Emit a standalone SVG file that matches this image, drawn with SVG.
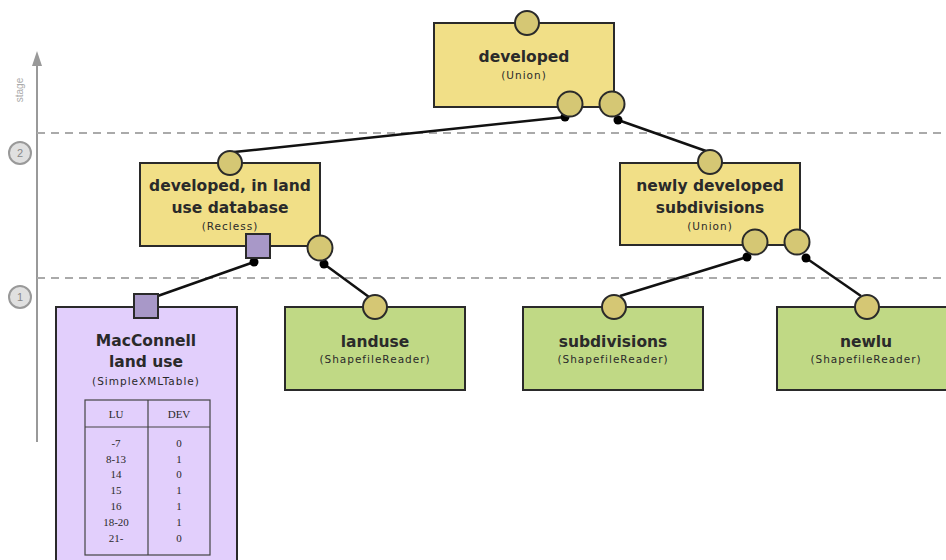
<svg xmlns="http://www.w3.org/2000/svg" width="946" height="560" viewBox="0 0 946 560">
<defs>
<style>
.box{stroke:#2a2a2a;stroke-width:2}
.y{fill:#f1df87}
.g{fill:#c0d985}
.p{fill:#e2cffc}
.port{fill:#d5c774;stroke:#2a2a2a;stroke-width:2}
.sq{fill:#a898c8;stroke:#2a2a2a;stroke-width:2}
.t{font-family:"DejaVu Sans",Verdana,sans-serif;font-weight:bold;font-size:15.5px;fill:#2a2a2a;text-anchor:middle}
.s{font-family:"DejaVu Sans",Verdana,sans-serif;font-size:10.5px;letter-spacing:1px;fill:#2a2a2a;text-anchor:middle}
.tb{font-family:"Liberation Serif",serif;font-size:11px;fill:#2a2a2a;text-anchor:middle}
.c{stroke:#111;stroke-width:2.5;fill:none}
.dot{fill:#000}
.dash{stroke:#aaa;stroke-width:2;stroke-dasharray:8 6}
</style>
</defs>
<rect width="946" height="560" fill="#fff"/>
<g id="axis">
<line x1="37" y1="66" x2="37" y2="442" stroke="#999" stroke-width="2"/>
<polygon points="37,51 32,66 42,66" fill="#999"/>
<text x="23" y="90" transform="rotate(-90 23 90)" font-family="Liberation Sans,sans-serif" font-size="10" fill="#aaa" text-anchor="middle">stage</text>
<line class="dash" x1="37" y1="133" x2="946" y2="133"/>
<line class="dash" x1="37" y1="278" x2="946" y2="278"/>
<circle cx="20" cy="153" r="11" fill="#e0e0e0" stroke="#999" stroke-width="2"/>
<text x="20" y="157" font-family="Liberation Sans,sans-serif" font-size="11" fill="#888" text-anchor="middle">2</text>
<circle cx="20" cy="297" r="11" fill="#e0e0e0" stroke="#999" stroke-width="2"/>
<text x="20" y="301" font-family="Liberation Sans,sans-serif" font-size="11" fill="#888" text-anchor="middle">1</text>
</g>
<g id="connectors">
<line class="c" x1="565" y1="117" x2="234" y2="152"/>
<circle class="dot" cx="565" cy="117" r="4.5"/>
<line class="c" x1="618" y1="120" x2="706" y2="151"/>
<circle class="dot" cx="618" cy="120" r="4.5"/>
<line class="c" x1="254" y1="262" x2="152" y2="298"/>
<circle class="dot" cx="254" cy="262" r="4.5"/>
<line class="c" x1="324" y1="264" x2="369" y2="297"/>
<circle class="dot" cx="324" cy="264" r="4.5"/>
<line class="c" x1="747" y1="257" x2="620" y2="296"/>
<circle class="dot" cx="747" cy="257" r="4.5"/>
<line class="c" x1="806" y1="258" x2="861" y2="296"/>
<circle class="dot" cx="806" cy="258" r="4.5"/>
</g>
<g id="developed">
<rect class="box y" x="434" y="23" width="180" height="84"/>
<circle class="port" cx="527" cy="23" r="12"/>
<text class="t" x="524" y="62">developed</text>
<text class="s" x="524" y="79">(Union)</text>
<circle class="port" cx="570" cy="104" r="12.5"/>
<circle class="port" cx="612" cy="104" r="12.5"/>
</g>
<g id="developed-in-land-use">
<rect class="box y" x="140" y="163" width="180" height="83"/>
<circle class="port" cx="230" cy="163" r="12"/>
<text class="t" x="230" y="191">developed, in land</text>
<text class="t" x="230" y="213">use database</text>
<text class="s" x="230" y="230">(Recless)</text>
<rect class="sq" x="246" y="234" width="24" height="24"/>
<circle class="port" cx="320" cy="248" r="12.5"/>
</g>
<g id="newly-developed">
<rect class="box y" x="620" y="163" width="180" height="82"/>
<circle class="port" cx="710" cy="162" r="12"/>
<text class="t" x="710" y="191">newly developed</text>
<text class="t" x="710" y="213">subdivisions</text>
<text class="s" x="710" y="230">(Union)</text>
<circle class="port" cx="755" cy="242" r="12.5"/>
<circle class="port" cx="797" cy="242" r="12.5"/>
</g>
<g id="macconnell">
<rect class="box p" x="56" y="307" width="181" height="260"/>
<rect class="sq" x="134" y="294" width="24" height="24"/>
<text class="t" x="146" y="346">MacConnell</text>
<text class="t" x="146" y="367">land use</text>
<text class="s" x="146" y="385">(SimpleXMLTable)</text>
<rect x="85" y="400" width="125" height="155" fill="none" stroke="#444" stroke-width="1.2"/>
<line x1="85" y1="427" x2="210" y2="427" stroke="#444" stroke-width="1.2"/>
<line x1="148" y1="400" x2="148" y2="555" stroke="#444" stroke-width="1.2"/>
<text class="tb" x="116" y="418">LU</text>
<text class="tb" x="179" y="418">DEV</text>
<text class="tb" x="116" y="447">-7</text><text class="tb" x="179" y="447">0</text>
<text class="tb" x="116" y="463">8-13</text><text class="tb" x="179" y="463">1</text>
<text class="tb" x="116" y="478">14</text><text class="tb" x="179" y="478">0</text>
<text class="tb" x="116" y="494">15</text><text class="tb" x="179" y="494">1</text>
<text class="tb" x="116" y="510">16</text><text class="tb" x="179" y="510">1</text>
<text class="tb" x="116" y="526">18-20</text><text class="tb" x="179" y="526">1</text>
<text class="tb" x="116" y="542">21-</text><text class="tb" x="179" y="542">0</text>
</g>
<g id="landuse">
<rect class="box g" x="285" y="307" width="180" height="83"/>
<circle class="port" cx="375" cy="307" r="12"/>
<text class="t" x="375" y="347">landuse</text>
<text class="s" x="375" y="363">(ShapefileReader)</text>
</g>
<g id="subdivisions">
<rect class="box g" x="523" y="307" width="180" height="83"/>
<circle class="port" cx="614" cy="307" r="12"/>
<text class="t" x="613" y="347">subdivisions</text>
<text class="s" x="613" y="363">(ShapefileReader)</text>
</g>
<g id="newlu">
<rect class="box g" x="777" y="307" width="180" height="83"/>
<circle class="port" cx="867" cy="307" r="12"/>
<text class="t" x="866" y="347">newlu</text>
<text class="s" x="866" y="363">(ShapefileReader)</text>
</g>
</svg>
